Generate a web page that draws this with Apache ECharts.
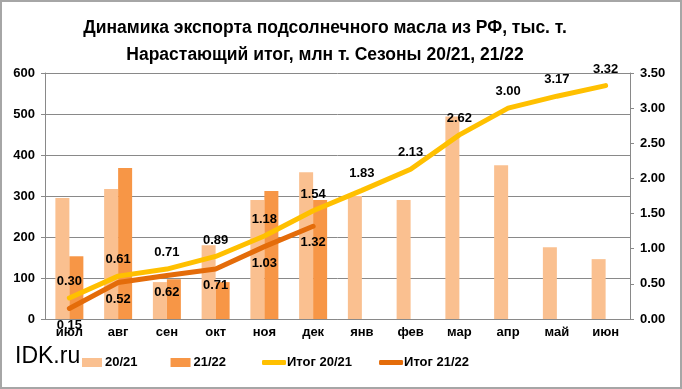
<!DOCTYPE html>
<html><head><meta charset="utf-8">
<script src="https://cdn.jsdelivr.net/npm/echarts@6/dist/echarts.min.js"></script>
<style>
html,body{margin:0;padding:0;background:#fff;}
#wrap{position:absolute;left:0;top:0;width:678px;height:385px;border:2px solid #a6a6a6;}
#c{width:678px;height:385px;}
</style></head><body>
<div id="wrap"><div id="c"></div></div>
<script>
const categories = ['июл','авг','сен','окт','ноя','дек','янв','фев','мар','апр','май','июн'];
const bars2021 = [295,317,90,180,290,358,300,290,494,375,175,146];
const bars2122 = [153,368,97,90,312,290];
const total2021 = [0.30,0.61,0.71,0.89,1.18,1.54,1.83,2.13,2.62,3.00,3.17,3.32];
const total2122 = [0.15,0.52,0.62,0.71,1.03,1.32];
const leftTicks = [0,100,200,300,400,500,600];
const rightTicks = [0,0.5,1,1.5,2,2.5,3,3.5];

const font = 'Liberation Sans, Arial, sans-serif';
const chart = echarts.init(document.getElementById('c'));
const lblStyle = {fontFamily:font,fontWeight:'bold',fontSize:13,color:'#000'};
chart.setOption({
  animation:false,
  textStyle:{fontFamily:font},
  title:{text:'Динамика экспорта подсолнечного масла из РФ, тыс. т.\nНарастающий итог, млн т. Сезоны 20/21, 21/22',
    left:318,top:8,textAlign:'center',textStyle:{fontFamily:font,fontWeight:'bold',fontSize:17.5,lineHeight:27,color:'#000'}},
  graphic:[{type:'text',left:13,top:343,style:{text:'IDK.ru',fontFamily:font,fontSize:23,fill:'#000'}}],
  legend:[
    {data:['20/21','21/22'],left:80,top:354,padding:0,itemWidth:20,itemHeight:9,itemGap:33,icon:'rect',
     textStyle:{fontFamily:font,fontWeight:'bold',fontSize:13,color:'#000',padding:[0,0,0,-2]}},
    {data:['Итог 20/21','Итог 21/22'],left:260,top:354,padding:0,itemWidth:24,itemHeight:5,itemGap:27,icon:'roundRect',
     textStyle:{fontFamily:font,fontWeight:'bold',fontSize:13,color:'#000',padding:[0,0,0,-4]}}
  ],
  grid:{left:43,right:50,top:71,bottom:68},
  xAxis:{type:'category',data:categories,
    axisLine:{lineStyle:{color:'#898989'}},axisTick:{lineStyle:{color:'#898989'},length:5},
    axisLabel:{...lblStyle,margin:7}},
  yAxis:[
    {type:'value',min:leftTicks[0],max:leftTicks[leftTicks.length-1],interval:100,
     axisLine:{show:true,lineStyle:{color:'#898989'}},axisTick:{show:true,length:4,lineStyle:{color:'#898989'}},
     splitLine:{lineStyle:{color:'#898989'}},axisLabel:{...lblStyle,margin:10}},
    {type:'value',min:rightTicks[0],max:rightTicks[rightTicks.length-1],interval:0.5,
     axisLine:{show:true,lineStyle:{color:'#898989'}},axisTick:{show:true,length:4,lineStyle:{color:'#898989'}},
     splitLine:{show:false},axisLabel:{...lblStyle,margin:10,formatter:v=>v.toFixed(2)}}
  ],
  series:[
    {name:'20/21',type:'bar',data:bars2021,barWidth:14,barGap:'0%',itemStyle:{color:'#FAC090'}},
    {name:'21/22',type:'bar',data:bars2122,barWidth:14,barGap:'0%',itemStyle:{color:'#F79646'}},
    {name:'Итог 20/21',type:'line',yAxisIndex:1,data:total2021,symbol:'circle',symbolSize:0,showSymbol:true,color:'#FFC000',
     lineStyle:{width:5,color:'#FFC000',cap:'round'},
     label:{show:true,position:'top',distance:10,...lblStyle,formatter:p=>p.value.toFixed(2)}},
    {name:'Итог 21/22',type:'line',yAxisIndex:1,data:total2122,symbol:'circle',symbolSize:0,showSymbol:true,color:'#E46C0A',
     lineStyle:{width:5,color:'#E46C0A',cap:'round'},
     label:{show:true,position:'bottom',distance:10,...lblStyle,formatter:p=>p.value.toFixed(2)}}
  ]
});
</script></body></html>
